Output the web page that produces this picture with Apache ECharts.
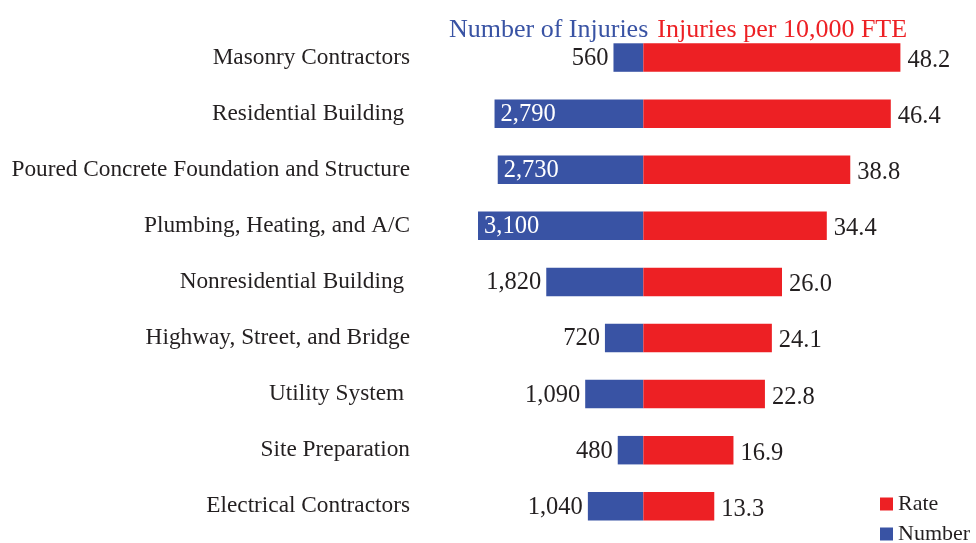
<!DOCTYPE html>
<html>
<head>
<meta charset="utf-8">
<script src="https://cdn.jsdelivr.net/npm/echarts@6/dist/echarts.min.js"></script>
<style>
  html, body { margin: 0; padding: 0; background: #fff; }
  #chart { width: 976px; height: 543px; }
</style>
</head>
<body>
<div id="chart"></div>
<script>
// trailing spaces are in the original labels
const categories = [
  'Masonry Contractors',
  'Residential Building ',
  'Poured Concrete Foundation and Structure',
  'Plumbing, Heating, and A/C',
  'Nonresidential Building ',
  'Highway, Street, and Bridge',
  'Utility System ',
  'Site Preparation',
  'Electrical Contractors'
];
const injuries = [560, 2790, 2730, 3100, 1820, 720, 1090, 480, 1040];
const rates = [48.2, 46.4, 38.8, 34.4, 26.0, 24.1, 22.8, 16.9, 13.3];

const RED = '#ED2024';
const BLUE = '#3953A4';
const INK = '#231F20';
const FONT = '"Liberation Serif", "Times New Roman", serif';

const chart = echarts.init(document.getElementById('chart'), null, { renderer: 'canvas' });

// injuries drawn to the left, 100 injuries = 1 unit of rate
const numberData = injuries.map(v => {
  const inside = v >= 2500;
  return {
    value: -v / 100,
    label: {
      position: inside ? 'insideLeft' : 'left',
      distance: inside ? 6 : 5,
      color: inside ? '#fff' : INK
    }
  };
});

const legendBase = {
  left: 880,
  icon: 'rect',
  itemWidth: 13,
  itemHeight: 13,
  padding: 0,
  textStyle: { fontSize: 22, color: INK, fontFamily: FONT }
};

chart.setOption({
  animation: false,
  textStyle: { fontFamily: FONT },
  title: {
    left: 444,
    top: 12,
    text: '{a|Number of Injuries}  {b|Injuries per 10,000 FTE}',
    textStyle: {
      fontWeight: 'normal',
      rich: {
        a: { color: BLUE, fontSize: 26, fontFamily: FONT, fontWeight: 'normal' },
        b: { color: RED, fontSize: 26, fontFamily: FONT, fontWeight: 'normal' }
      }
    }
  },
  legend: [
    Object.assign({ data: ['Rate'], top: 493 }, legendBase),
    Object.assign({ data: ['Number'], top: 523 }, legendBase)
  ],
  grid: { left: 430, width: 480, top: 29.5, height: 504.8 },
  xAxis: {
    type: 'value',
    min: -40,
    max: 50,
    show: false
  },
  yAxis: {
    type: 'category',
    inverse: true,
    data: categories,
    axisLine: { show: false, onZero: false },
    axisTick: { show: false },
    axisLabel: { margin: 20, fontSize: 23.3, color: INK, fontFamily: FONT }
  },
  series: [
    {
      name: 'Number',
      type: 'bar',
      data: numberData,
      barWidth: 28.5,
      barGap: '-100%',
      itemStyle: { color: BLUE },
      label: {
        show: true,
        fontSize: 24.5,
        fontFamily: FONT,
        offset: [0, 1],
        formatter: p => injuries[p.dataIndex].toLocaleString('en-US')
      }
    },
    {
      name: 'Rate',
      type: 'bar',
      data: rates,
      barWidth: 28.5,
      itemStyle: { color: RED },
      label: {
        show: true,
        position: 'right',
        distance: 7,
        fontSize: 24.5,
        fontFamily: FONT,
        color: INK,
        offset: [0, 3],
        formatter: p => p.value.toFixed(1)
      }
    }
  ]
});
</script>
</body>
</html>
